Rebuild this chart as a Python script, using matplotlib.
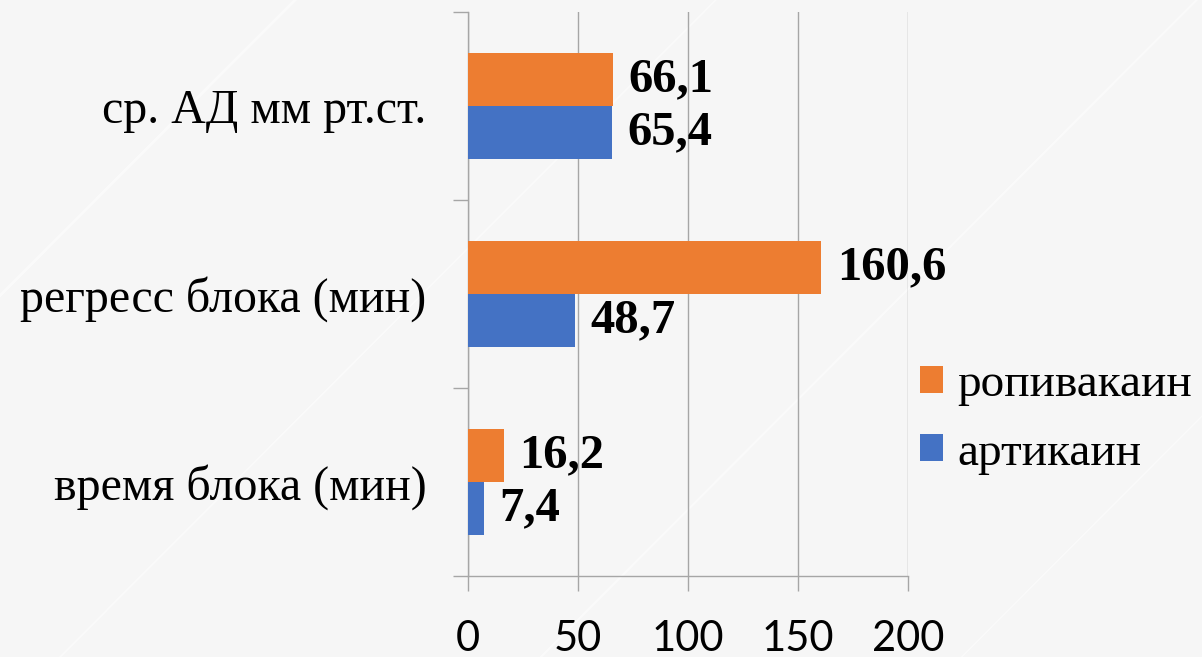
import matplotlib
matplotlib.use("Agg")
import matplotlib.pyplot as plt
import numpy as np

categories = ["время блока (мин)", "регресс блока (мин)", "ср. АД мм рт.ст."]
ropivacaine = [16.2, 160.6, 66.1]
articaine = [7.4, 48.7, 65.4]
series_names = ["ропивакаин", "артикаин"]
xticks = [0, 50, 100, 150, 200]

ORANGE = "#ED7D31"
BLUE = "#4472C4"
GRID = "#a6a6a6"
BG = "#f6f6f6"
SERIF = ["Liberation Serif", "DejaVu Serif"]

fig = plt.figure(figsize=(12.02, 6.57), dpi=100, facecolor=BG)

# faint diagonal stripes of the slide background
for x0, w in [(-0.3, 2.0), (0.05, 1.2), (0.45, 1.5), (0.8, 1.0), (1.1, 2.0)]:
    fig.add_artist(plt.Line2D([x0, x0 + 0.6], [0, 1.1], transform=fig.transFigure,
                              color="white", lw=w, alpha=0.5, zorder=0))

ax = fig.add_axes([0.3894, 0.1233, 0.3661, 0.8584])
ax.set_facecolor("none")

y = np.arange(len(categories))
h = 0.283
ax.barh(y + h / 2, ropivacaine, height=h, color=ORANGE, label=series_names[0], zorder=3)
ax.barh(y - h / 2, articaine, height=h, color=BLUE, label=series_names[1], zorder=3)

for vals, off in [(ropivacaine, h / 2), (articaine, -h / 2)]:
    for yi, v in zip(y, vals):
        ax.annotate(f"{v:.1f}".replace(".", ","), (v, yi + off), xytext=(11, 0),
                    textcoords="offset points", va="center", ha="left",
                    fontsize=35, fontweight="bold", family=SERIF)

ax.set_xlim(0, 200)
ax.set_ylim(-0.5, 2.5)
ax.set_xticks(xticks)
ax.set_xticklabels([str(t) for t in xticks], fontsize=30, family=["Lato", "DejaVu Sans"])
ax.set_yticks(y)
ax.set_yticklabels(categories, fontsize=34.5, family=SERIF)
ax.set_yticks([-0.5, 0.5, 1.5, 2.5], minor=True)
ax.tick_params(axis="y", which="major", length=0, pad=30)
ax.tick_params(axis="y", which="minor", length=11, width=1, color=GRID)
ax.tick_params(axis="x", length=11, width=1, color=GRID, pad=21)

ax.grid(axis="x", color=GRID, lw=1, zorder=0)
for s in ["top", "right"]:
    ax.spines[s].set_visible(False)
for s in ["left", "bottom"]:
    ax.spines[s].set_color(GRID)
    ax.spines[s].set_linewidth(1)

ax.legend(loc="center left", bbox_to_anchor=(0.765, 0.362), bbox_transform=fig.transFigure,
          frameon=False, prop={"family": SERIF, "size": 34},
          borderpad=0, borderaxespad=0,
          handlelength=0.5, handleheight=0.5, handletextpad=0.3, labelspacing=0.55)

fig.savefig("out.png", dpi=100, facecolor=BG)
